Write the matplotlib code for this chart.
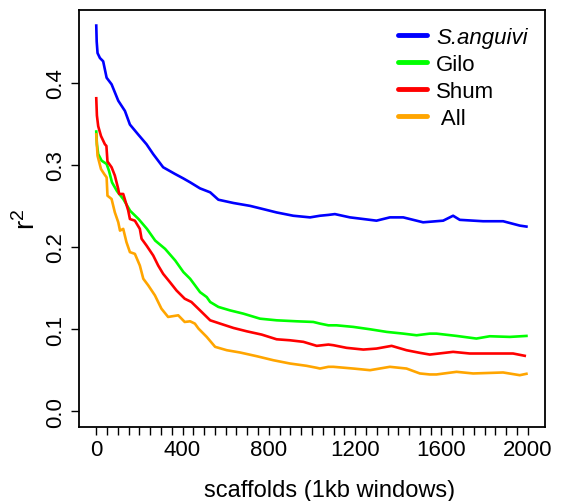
import matplotlib
matplotlib.use("Agg")
import matplotlib.pyplot as plt
from matplotlib.lines import Line2D

plt.rcParams['font.family'] = ['Liberation Sans', 'DejaVu Sans']
plt.rcParams['mathtext.default'] = 'regular'

# ---- data ----
blue_x = [0, 2, 6, 17, 32, 48, 71, 102, 133, 156, 194, 233, 264, 310, 364, 403, 435, 481, 528,
          566, 636, 713, 775, 836, 913, 991, 1037, 1076, 1106, 1176, 1238, 1299, 1361, 1423,
          1515, 1608, 1654, 1685, 1793, 1886, 1963, 1994]
blue_r = [0.4695, 0.45, 0.436, 0.430, 0.426, 0.406, 0.398, 0.378, 0.3655, 0.349, 0.337, 0.325,
          0.313, 0.297, 0.289, 0.2835, 0.2787, 0.2713, 0.2665, 0.2575, 0.2535, 0.250, 0.246,
          0.242, 0.238, 0.236, 0.238, 0.239, 0.240, 0.236, 0.234, 0.232, 0.236, 0.236, 0.230,
          0.232, 0.238, 0.233, 0.2313, 0.2313, 0.226, 0.2248]

green_x = [0, 3, 9, 25, 48, 59, 73, 96, 126, 157, 196, 235, 273, 319, 366, 404, 435, 458, 481,
           512, 528, 566, 620, 682, 759, 836, 929, 1006, 1037, 1076, 1114, 1191, 1269, 1346,
           1423, 1485, 1546, 1577, 1670, 1762, 1824, 1917, 1994]
green_r = [0.3405, 0.325, 0.313, 0.305, 0.301, 0.2927, 0.2786, 0.268, 0.258, 0.244, 0.234, 0.222,
           0.2078, 0.1977, 0.1835, 0.1694, 0.1613, 0.1532, 0.145, 0.139, 0.133, 0.127, 0.1228,
           0.1188, 0.1127, 0.1107, 0.1095, 0.1087, 0.1067, 0.1046, 0.1046, 0.1027, 0.0998,
           0.0966, 0.0945, 0.0925, 0.0945, 0.0945, 0.0917, 0.0885, 0.0913, 0.0905, 0.0917]

red_x = [0, 3, 9, 22, 40, 47, 52, 71, 86, 102, 106, 125, 148, 156, 179, 202, 210, 233, 264, 287,
         310, 341, 372, 410, 441, 481, 528, 574, 636, 698, 767, 836, 898, 960, 1022, 1076, 1099,
         1160, 1238, 1299, 1369, 1438, 1500, 1546, 1654, 1731, 1809, 1932, 1986]
red_r = [0.381, 0.36, 0.347, 0.335, 0.325, 0.323, 0.304, 0.297, 0.287, 0.2705, 0.2645, 0.2645,
         0.2445, 0.234, 0.232, 0.222, 0.210, 0.2017, 0.1896, 0.1774, 0.1673, 0.1573, 0.147,
         0.137, 0.133, 0.1228, 0.1107, 0.1067, 0.1014, 0.0973, 0.0933, 0.0876, 0.0864, 0.0845,
         0.0796, 0.0812, 0.0804, 0.0772, 0.0751, 0.0763, 0.0796, 0.0743, 0.0711, 0.069, 0.0723,
         0.0703, 0.0703, 0.0703, 0.0675]

orange_x = [0, 6, 22, 37, 48, 52, 71, 86, 102, 110, 125, 140, 156, 179, 202, 218, 241, 272, 302,
            333, 380, 410, 435, 457, 474, 512, 551, 605, 667, 744, 821, 898, 975, 1022, 1037,
            1076, 1099, 1191, 1269, 1361, 1438, 1500, 1546, 1577, 1670, 1747, 1886, 1963, 1994]
orange_r = [0.337, 0.311, 0.2948, 0.2887, 0.2847, 0.2624, 0.2584, 0.2422, 0.230, 0.2199, 0.222,
            0.2058, 0.1937, 0.1916, 0.1774, 0.1613, 0.1532, 0.141, 0.1249, 0.1148, 0.1168,
            0.1087, 0.1095, 0.1067, 0.1006, 0.0905, 0.0784, 0.0743, 0.0715, 0.067, 0.0621,
            0.0581, 0.0553, 0.0529, 0.052, 0.0541, 0.0541, 0.052, 0.050, 0.0541, 0.052, 0.046,
            0.0448, 0.0448, 0.048, 0.046, 0.0472, 0.0439, 0.0456]

series_labels = ['S.anguivi', 'Gilo', 'Shum', ' All']
series_colors = ['#0000FF', '#00FF00', '#FF0000', '#FFA500']
x_major = [0, 400, 800, 1200, 1600, 2000]
y_ticks = [0.0, 0.1, 0.2, 0.3, 0.4]

# ---- figure ----
fig = plt.figure(figsize=(5.63, 5.02), dpi=100)
ax = fig.add_axes([79/563, 1 - 427.7/502, 466/563, 417/502])

series = [(blue_x, blue_r), (green_x, green_r), (red_x, red_r), (orange_x, orange_r)]
for (xs, rs), col, lab in zip(series, series_colors, series_labels):
    ax.plot(xs, rs, color=col, lw=1.9, label=lab)

ax.set_xlim(-80, 2080)
ax.set_ylim(-0.0188, 0.4888)

ax.set_xticks(list(range(0, 2001, 50)))
ax.set_xticklabels([str(v) if v in x_major else '' for v in range(0, 2001, 50)])
ax.set_yticks(y_ticks)
ax.set_yticklabels(['0.0', '0.1', '0.2', '0.3', '0.4'], rotation=90, va='center')

ax.tick_params(axis='both', direction='out', length=5.5, width=1.0, labelsize=16, color='black')
ax.tick_params(axis='x', pad=3)
ax.tick_params(axis='y', pad=4)
for sp in ax.spines.values():
    sp.set_linewidth(1.3)

fig.text(330/563, 1 - 491/502, 'scaffolds (1kb windows)', ha='center', va='center', fontsize=17)
fig.text(27/563, 1 - 219/502, r'r$^{2}$', ha='center', va='center', fontsize=20, rotation=90)

leg_handles = [Line2D([0], [0], color=c, lw=3.5, solid_capstyle='round') for c in series_colors]
leg = ax.legend(leg_handles, series_labels, loc='upper left', bbox_to_anchor=(398/563, 1 - 28/502),
                bbox_transform=fig.transFigure, frameon=False, fontsize=16, borderpad=0,
                borderaxespad=0, handlelength=1.3, handletextpad=0.42, labelspacing=0.27)
leg.get_texts()[0].set_fontstyle('italic')

fig.savefig('out.png', dpi=100)
